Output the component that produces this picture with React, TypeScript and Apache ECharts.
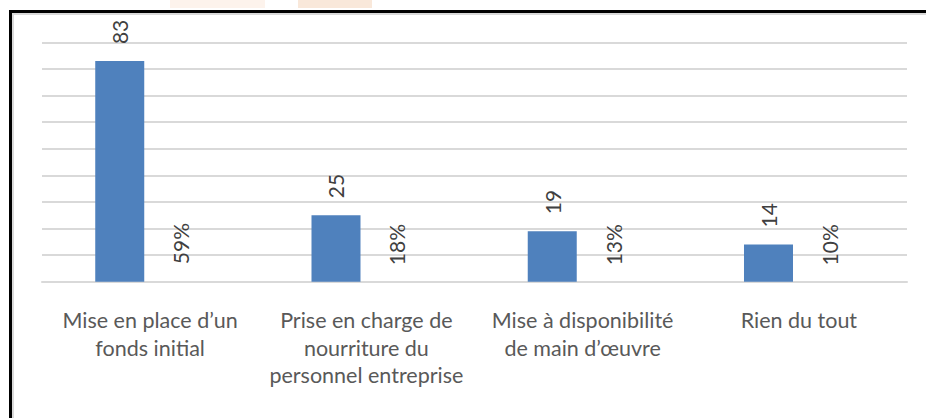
import React, { useEffect, useRef } from "react";
import * as echarts from "echarts";

const categories = [
  "Mise en place d’un\nfonds initial",
  "Prise en charge de\nnourriture du\npersonnel entreprise",
  "Mise à disponibilité\nde main d’œuvre",
  "Rien du tout",
];
const counts = [83, 25, 19, 14];
const shares = [0.59, 0.18, 0.13, 0.1];
const yMin = 0;
const yMax = 90;
const yInterval = 10;

const FONT = "Lato, 'Open Sans', sans-serif";

export default function App() {
  const ref = useRef<HTMLDivElement>(null);
  useEffect(() => {
    if (!ref.current) return;
    const chart = echarts.init(ref.current, null, { renderer: "svg" });
    chart.setOption({
      animation: false,
      backgroundColor: "#ffffff",
      textStyle: { fontFamily: FONT },
      grid: { left: 42, right: 19, top: 42.5, bottom: 136.3, containLabel: false },
      xAxis: {
        type: "category",
        data: categories,
        axisLine: { show: true, lineStyle: { color: "#d9d9d9", width: 2 } },
        axisTick: { show: false },
        axisLabel: {
          interval: 0,
          color: "#595959",
          fontSize: 21.5,
          fontFamily: FONT,
          lineHeight: 27.5,
          margin: 25,
          align: "center",
        },
      },
      yAxis: {
        type: "value",
        min: yMin,
        max: yMax,
        interval: yInterval,
        axisLabel: { show: false },
        axisLine: { show: false },
        axisTick: { show: false },
        splitLine: { lineStyle: { color: "#d9d9d9", width: 2 } },
      },
      series: [
        {
          type: "bar",
          data: counts,
          barWidth: 49,
          barGap: "24%",
          itemStyle: { color: "#4f81bd" },
          label: {
            show: true,
            position: "top",
            rotate: 90,
            align: "left",
            verticalAlign: "middle",
            distance: 17,
            color: "#404040",
            fontSize: 21,
            fontFamily: FONT,
          },
        },
        {
          type: "bar",
          data: shares,
          barWidth: 49,
          itemStyle: { color: "rgba(0,0,0,0)" },
          label: {
            show: true,
            position: "top",
            rotate: 90,
            align: "left",
            verticalAlign: "middle",
            distance: 16,
            color: "#404040",
            fontSize: 21,
            fontFamily: FONT,
            formatter: (p: any) => Math.round(p.value * 100) + "%",
          },
        },
      ],
      graphic: [
        { type: "rect", shape: { x: 170, y: 0, width: 95, height: 8 }, style: { fill: "#fdf3ec" }, silent: true },
        { type: "rect", shape: { x: 298, y: 0, width: 74, height: 8 }, style: { fill: "#f9e8da" }, silent: true },
        { type: "rect", shape: { x: 9, y: 10, width: 917, height: 3 }, style: { fill: "#000000" }, silent: true },
        { type: "rect", shape: { x: 9, y: 10, width: 3, height: 408 }, style: { fill: "#000000" }, silent: true },
        { type: "rect", shape: { x: 12, y: 13, width: 914, height: 2 }, style: { fill: "#d9d9d9" }, silent: true },
        { type: "rect", shape: { x: 12, y: 13, width: 2, height: 405 }, style: { fill: "#d9d9d9" }, silent: true },
      ],
    });
    return () => chart.dispose();
  }, []);
  return (
    <div
      ref={ref}
      style={{ position: "fixed", left: 0, top: 0, width: 926, height: 418 }}
    />
  );
}
